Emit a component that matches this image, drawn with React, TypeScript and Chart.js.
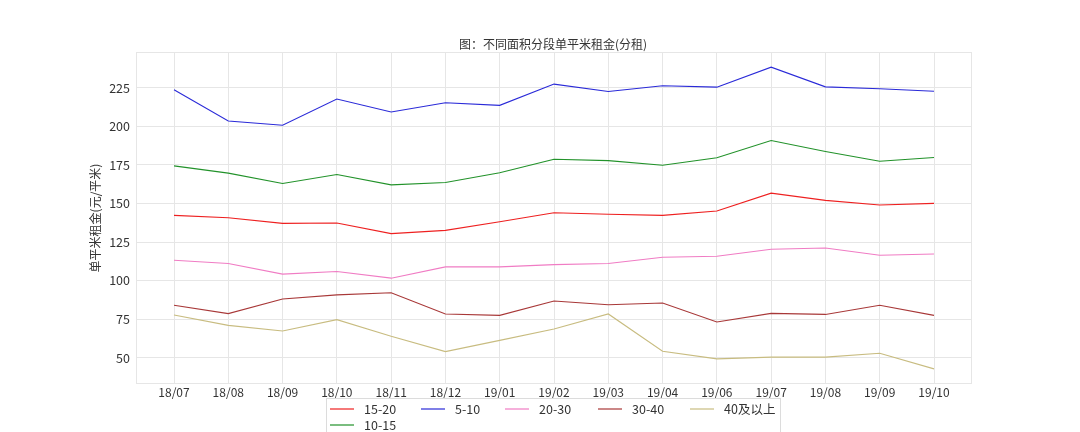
import { useEffect, useRef } from "react"
import { Chart, registerables } from "chart.js"

Chart.register(...registerables)

// Dati
const months = ["18/07", "18/08", "18/09", "18/10", "18/11", "18/12", "19/01", "19/02", "19/03", "19/04", "19/06", "19/07", "19/08", "19/09", "19/10"]
const yTicks = [50, 75, 100, 125, 150, 175, 200, 225]

const s15_20 = [142.3, 140.8, 137.1, 137.4, 130.5, 132.6, 138.2, 144.0, 143.0, 142.3, 145.1, 156.7, 152.0, 149.0, 150.1]
const s5_10 = [223.7, 203.5, 200.7, 217.7, 209.3, 215.3, 213.6, 227.4, 222.6, 226.3, 225.4, 238.4, 225.6, 224.4, 222.8]
const s20_30 = [113.2, 111.1, 104.2, 105.9, 101.6, 108.9, 108.9, 110.4, 111.1, 115.2, 115.8, 120.3, 121.2, 116.5, 117.3]
const s30_40 = [84.0, 78.6, 88.1, 90.8, 92.1, 78.4, 77.5, 86.8, 84.4, 85.5, 73.2, 78.8, 78.1, 84.0, 77.5]
const s40plus = [77.7, 71.0, 67.4, 74.7, 63.9, 54.0, 61.3, 68.7, 78.4, 54.2, 49.3, 50.4, 50.4, 52.9, 42.8]
const s10_15 = [174.4, 169.7, 163.0, 168.8, 162.1, 163.6, 169.9, 178.7, 177.8, 174.8, 179.6, 190.8, 183.7, 177.4, 179.8]

const seriesNames = ["15-20", "5-10", "20-30", "30-40", "40及以上", "10-15"]
const seriesValues = [s15_20, s5_10, s20_30, s30_40, s40plus, s10_15]
const seriesColors = ["#ee2020", "#2a2ad8", "#f07cc4", "#a83838", "#c8bc80", "#22922a"]

const FONT = "'Noto Sans CJK SC', 'DejaVu Sans', sans-serif"

const decorPlugin = {
  id: "decor",
  beforeDatasetsDraw(chart: any) {
    const { ctx, chartArea } = chart
    ctx.save()
    ctx.strokeStyle = "#e6e6e6"
    ctx.lineWidth = 1
    ctx.strokeRect(chartArea.left + 0.5, chartArea.top + 0.5, chartArea.width - 1, chartArea.height - 1)
    ctx.restore()
  },
  afterDraw(chart: any) {
    const { ctx } = chart
    ctx.save()
    // titolo
    ctx.fillStyle = "#333"
    ctx.font = `12px ${FONT}`
    ctx.textAlign = "center"
    ctx.textBaseline = "middle"
    ctx.fillText("图：不同面积分段单平米租金(分租)", 553, 44)

    // legenda con cornice
    ctx.fillStyle = "#fff"
    ctx.fillRect(326, 398, 454, 40)
    ctx.strokeStyle = "#dcdcdc"
    ctx.lineWidth = 1
    ctx.strokeRect(326.5, 398.5, 454, 40)
    const itemX = [330, 421, 505, 598, 690, 330]
    const itemY = [409, 409, 409, 409, 409, 425]
    ctx.textAlign = "left"
    ctx.font = `12.5px ${FONT}`
    seriesNames.forEach((name, i) => {
      const x = itemX[i]
      const y = itemY[i]
      ctx.strokeStyle = seriesColors[i]
      ctx.lineWidth = 1.2
      ctx.beginPath()
      ctx.moveTo(x, y)
      ctx.lineTo(x + 24, y)
      ctx.stroke()
      ctx.fillStyle = "#333"
      ctx.fillText(name, x + 34, y)
    })
    ctx.restore()
  },
}

export default function App() {
  const chartRef = useRef<HTMLCanvasElement>(null)
  const chartInstance = useRef<Chart | null>(null)

  useEffect(() => {
    document.body.style.margin = "0"
    if (!chartRef.current) return
    if (chartInstance.current) {
      chartInstance.current.destroy()
    }
    const ctx = chartRef.current.getContext("2d")
    if (!ctx) return

    chartInstance.current = new Chart(ctx, {
      type: "line",
      data: {
        datasets: seriesNames.map((name, i) => ({
          label: name,
          data: seriesValues[i].map((v, j) => ({ x: j, y: v })),
          borderColor: seriesColors[i],
          backgroundColor: seriesColors[i],
          borderWidth: 1.1,
          pointRadius: 0,
          tension: 0,
          fill: false,
        })),
      },
      options: {
        animation: false,
        responsive: true,
        maintainAspectRatio: false,
        layout: { padding: { top: 52, right: 108, bottom: 0, left: 0 } },
        plugins: {
          legend: { display: false },
          title: { display: false },
          tooltip: { enabled: false },
        },
        scales: {
          x: {
            type: "linear",
            min: -0.7,
            max: 14.7,
            afterBuildTicks: (axis: any) => {
              axis.ticks = months.map((_, i) => ({ value: i }))
            },
            afterFit: (axis: any) => {
              axis.height = 48
            },
            ticks: {
              autoSkip: false,
              maxRotation: 0,
              padding: 1,
              color: "#333",
              font: { family: FONT, size: 12 },
              callback: (v: any) => months[v as number] ?? "",
            },
            grid: { color: "#e6e6e6", drawTicks: false },
            border: { display: false },
          },
          y: {
            min: 33,
            max: 248.2,
            afterBuildTicks: (axis: any) => {
              axis.ticks = yTicks.map((v) => ({ value: v }))
            },
            afterFit: (axis: any) => {
              axis.width = 136
            },
            ticks: {
              padding: 6,
              color: "#333",
              font: { family: FONT, size: 12.5 },
            },
            title: {
              display: true,
              text: "单平米租金(元/平米)",
              color: "#333",
              font: { family: FONT, size: 12 },
              padding: { top: 88, bottom: 0 },
            },
            grid: { color: "#e6e6e6", drawTicks: false },
            border: { display: false },
          },
        },
      },
      plugins: [decorPlugin],
    })

    return () => {
      if (chartInstance.current) {
        chartInstance.current.destroy()
      }
    }
  }, [])

  return (
    <div style={{ width: 1080, height: 432, position: "relative", background: "#fff" }}>
      <canvas ref={chartRef} />
    </div>
  )
}
